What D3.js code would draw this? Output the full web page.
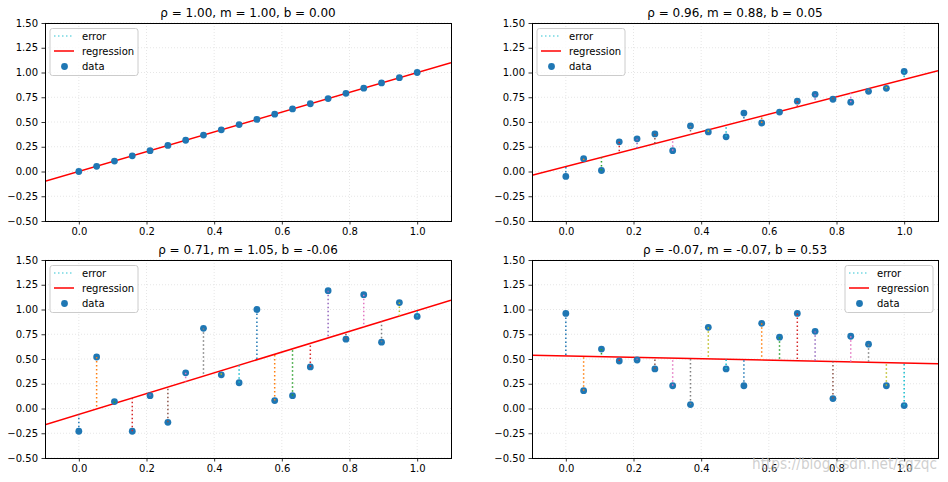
<!DOCTYPE html>
<html>
<head>
<meta charset="utf-8">
<script src="https://cdn.jsdelivr.net/npm/d3@7"></script>
<style>
  html, body { margin: 0; padding: 0; background: #fff; }
  svg { display: block; }
  text { font-family: "DejaVu Sans", sans-serif; }
</style>
</head>
<body>
<svg id="chart" width="948" height="482"></svg>
<script>
// ---- data ----
const xValues = [0, 0.0526, 0.1053, 0.1579, 0.2105, 0.2632, 0.3158, 0.3684, 0.4211, 0.4737,
                 0.5263, 0.5789, 0.6316, 0.6842, 0.7368, 0.7895, 0.8421, 0.8947, 0.9474, 1.0];
const y1 = [0, 0.0526, 0.1053, 0.1579, 0.2105, 0.2632, 0.3158, 0.3684, 0.4211, 0.4737,
            0.5263, 0.5789, 0.6316, 0.6842, 0.7368, 0.7895, 0.8421, 0.8947, 0.9474, 1.0];
const y2 = [-0.05, 0.13, 0.01, 0.30, 0.33, 0.38, 0.21, 0.46, 0.40, 0.35,
            0.59, 0.49, 0.60, 0.71, 0.78, 0.73, 0.70, 0.81, 0.84, 1.01];
const y3 = [-0.23, 0.52, 0.07, -0.23, 0.13, -0.14, 0.36, 0.81, 0.34, 0.26,
            1.00, 0.08, 0.13, 0.42, 1.19, 0.70, 1.15, 0.67, 1.07, 0.93];
const y4 = [0.96, 0.18, 0.60, 0.48, 0.49, 0.40, 0.23, 0.04, 0.82, 0.40,
            0.23, 0.86, 0.72, 0.96, 0.78, 0.10, 0.73, 0.65, 0.23, 0.03];
const seriesY = [y1, y2, y3, y4];
const rhos = [1.00, 0.96, 0.71, -0.07];
const slopes = [1.00, 0.88, 1.05, -0.07];
const intercepts = [0.00, 0.05, -0.06, 0.53];
const legendSide = ["left", "left", "left", "right"];
const xTicks = [0, 0.2, 0.4, 0.6, 0.8, 1.0];
const yTicks = [-0.5, -0.25, 0, 0.25, 0.5, 0.75, 1.0, 1.25, 1.5];
const xDomain = [-0.1, 1.1];
const yDomain = [-0.5, 1.5];
const legendLabels = ["error", "regression", "data"];
const watermark = "https://blog.csdn.net/sgzqc";

// ---- layout ----
const tab10 = ["#1f77b4","#ff7f0e","#2ca02c","#d62728","#9467bd","#8c564b","#e377c2","#7f7f7f","#bcbd22","#17becf"];
const panels = [
  {left: 45, top: 23}, {left: 532, top: 23},
  {left: 45, top: 260}, {left: 532, top: 260}
];
const W = 406, H = 198;

const svg = d3.select("#chart");

panels.forEach((p, k) => {
  const g = svg.append("g");
  const x = d3.scaleLinear().domain(xDomain).range([p.left, p.left + W]);
  const y = d3.scaleLinear().domain(yDomain).range([p.top + H, p.top]);
  const ys = seriesY[k], m = slopes[k], b = intercepts[k];

  const clipId = "clip" + k;
  svg.append("clipPath").attr("id", clipId).append("rect")
    .attr("x", p.left).attr("y", p.top).attr("width", W).attr("height", H);

  // grid
  const grid = g.append("g");
  grid.selectAll(".gx").data(xTicks).join("line")
    .attr("x1", d => x(d)).attr("x2", d => x(d))
    .attr("y1", p.top).attr("y2", p.top + H)
    .attr("stroke", "#e0e0e0").attr("stroke-width", 0.8).attr("stroke-dasharray", "1,2");
  grid.selectAll(".gy").data(yTicks).join("line")
    .attr("y1", d => y(d)).attr("y2", d => y(d))
    .attr("x1", p.left).attr("x2", p.left + W)
    .attr("stroke", "#e0e0e0").attr("stroke-width", 0.8).attr("stroke-dasharray", "1,2");

  const plot = g.append("g").attr("clip-path", `url(#${clipId})`);

  // regression line
  plot.append("line")
    .attr("x1", x(xDomain[0])).attr("y1", y(m * xDomain[0] + b))
    .attr("x2", x(xDomain[1])).attr("y2", y(m * xDomain[1] + b))
    .attr("stroke", "red").attr("stroke-width", 1.5);

  // scatter points
  plot.selectAll("circle.pt").data(xValues).join("circle")
    .attr("cx", d => x(d)).attr("cy", (d, i) => y(ys[i]))
    .attr("r", 3.4).attr("fill", tab10[0]);

  // error lines (on top)
  plot.selectAll("line.err").data(xValues).join("line")
    .attr("x1", d => x(d)).attr("x2", d => x(d))
    .attr("y1", (d, i) => y(ys[i])).attr("y2", d => y(m * d + b))
    .attr("stroke", (d, i) => tab10[i % 10])
    .attr("stroke-width", 1.5).attr("stroke-dasharray", "1.5,2.5");

  // axes
  const xAxis = d3.axisBottom(x).tickValues(xTicks).tickFormat(d3.format(".1f"))
    .tickSizeInner(3.5).tickSizeOuter(0).tickPadding(3.5);
  const yAxis = d3.axisLeft(y).tickValues(yTicks).tickFormat(d3.format(".2f"))
    .tickSizeInner(3.5).tickSizeOuter(0).tickPadding(3.5);
  const gx = g.append("g").attr("transform", `translate(0,${p.top + H})`).call(xAxis);
  const gy = g.append("g").attr("transform", `translate(${p.left},0)`).call(yAxis);
  [gx, gy].forEach(a => {
    a.select(".domain").remove();
    a.selectAll("text").attr("font-family", "DejaVu Sans").attr("font-size", 10).attr("fill", "#000");
    a.selectAll("line").attr("stroke", "#000").attr("stroke-width", 0.8);
  });

  // frame
  g.append("rect")
    .attr("x", p.left).attr("y", p.top).attr("width", W).attr("height", H)
    .attr("fill", "none").attr("stroke", "#000").attr("stroke-width", 1)
    .attr("shape-rendering", "crispEdges");

  // title
  g.append("text")
    .attr("x", p.left + W / 2).attr("y", p.top - 6)
    .attr("text-anchor", "middle").attr("font-size", 12).attr("fill", "#000")
    .text(`ρ = ${rhos[k].toFixed(2)}, m = ${m.toFixed(2)}, b = ${b.toFixed(2)}`);

  // legend
  const lw = 88, lh = 47;
  const lx = legendSide[k] === "left" ? p.left + 5 : p.left + W - 5 - lw;
  const ly = p.top + 5.5;
  const lg = g.append("g").attr("transform", `translate(${lx},${ly})`);
  lg.append("rect").attr("width", lw).attr("height", lh).attr("rx", 2.5)
    .attr("fill", "white").attr("fill-opacity", 0.8)
    .attr("stroke", "#cccccc").attr("stroke-width", 1);
  const rows = [7.5, 22.5, 38];
  lg.append("line").attr("x1", 4).attr("x2", 24).attr("y1", rows[0]).attr("y2", rows[0])
    .attr("stroke", tab10[9]).attr("stroke-opacity", 0.6).attr("stroke-width", 1.5).attr("stroke-dasharray", "1.5,2.5");
  lg.append("line").attr("x1", 4).attr("x2", 24).attr("y1", rows[1]).attr("y2", rows[1])
    .attr("stroke", "red").attr("stroke-width", 1.5);
  lg.append("circle").attr("cx", 14.5).attr("cy", rows[2]).attr("r", 3.4).attr("fill", tab10[0]);
  lg.selectAll("text.lab").data(legendLabels).join("text")
    .attr("x", 32).attr("y", (d, i) => rows[i]).attr("dy", "0.35em")
    .attr("font-size", 10).attr("fill", "#000").text(d => d);
});

// watermark (overlaps tick labels as in the reference)
svg.append("text")
  .attr("x", 752).attr("y", 469)
  .attr("font-family", "Liberation Sans, Arial, sans-serif")
  .attr("font-size", 16).attr("textLength", 185).attr("lengthAdjust", "spacingAndGlyphs")
  .attr("fill", "#c0c0c0").attr("fill-opacity", 0.75)
  .text(watermark);
</script>
</body>
</html>
